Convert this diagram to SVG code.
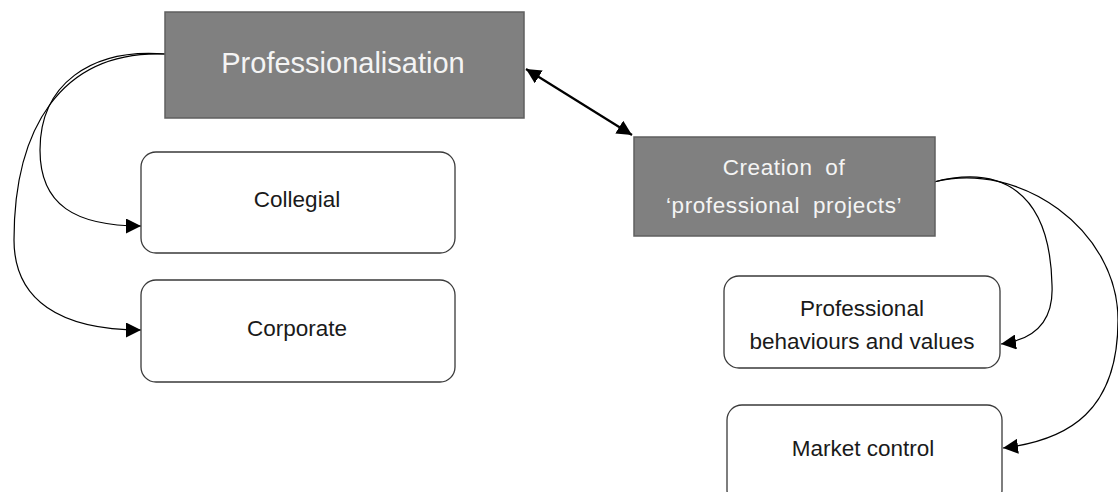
<svg xmlns="http://www.w3.org/2000/svg" width="1118" height="492" viewBox="0 0 1118 492">
  <style>
    .dark rect { fill: #808080; stroke: #5f5f5f; stroke-width: 1.5; }
    .light rect { fill: #ffffff; stroke: #3a3a3a; stroke-width: 1.3; }
    .dark text { fill: #f4f4f4; font-family: "Liberation Sans", "Open Sans", sans-serif; text-anchor: middle; }
    .light text { fill: #1a1a1a; font-family: "Liberation Sans", "Open Sans", sans-serif; text-anchor: middle; font-size: 22.5px; }
    .spaced { font-size: 22.5px; word-spacing: 6px; letter-spacing: 0.6px; }
    .conn { fill: none; stroke: #000; stroke-width: 1.2; }
    .bold { stroke-width: 2.2; }
  </style>
  <defs>
    <marker id="head" viewBox="0 0 10 10" refX="10" refY="5" markerUnits="userSpaceOnUse" markerWidth="15" markerHeight="15" orient="auto-start-reverse">
      <path d="M0,0 L10,5 L0,10 Z" fill="#000"/>
    </marker>
  </defs>

  <rect width="1118" height="492" fill="#ffffff"/>

  <!-- connectors -->
  <g id="connectors">
    <path class="conn bold" d="M526,69 L632,135" marker-start="url(#head)" marker-end="url(#head)"/>
    <path class="conn" d="M165,54 C90,48 40,85 40,150 C40,205 75,226 141,226" marker-end="url(#head)"/>
    <path class="conn" d="M165,54 C60,50 14,130 14,240 C14,300 60,330 141,330" marker-end="url(#head)"/>
    <path class="conn" d="M934,182 C1000,165 1050,190 1052,285 C1054,325 1030,340 1001,344" marker-end="url(#head)"/>
    <path class="conn" d="M934,182 C1020,160 1118,230 1118,320 C1118,410 1070,440 1003,448" marker-end="url(#head)"/>
  </g>

  <g id="professionalisation" class="dark">
    <rect x="165" y="12" width="359" height="106"/>
    <text x="343" y="73" font-size="29">Professionalisation</text>
  </g>

  <g id="creation" class="dark">
    <rect x="634" y="137" width="301" height="99"/>
    <text class="spaced" x="784" y="175">Creation of</text>
    <text class="spaced" x="784" y="213">‘professional projects’</text>
  </g>

  <g id="collegial" class="light">
    <rect x="141" y="152" width="314" height="101" rx="15"/>
    <text x="297" y="207">Collegial</text>
  </g>

  <g id="corporate" class="light">
    <rect x="141" y="280" width="314" height="102" rx="15"/>
    <text x="297" y="336">Corporate</text>
  </g>

  <g id="behaviours" class="light">
    <rect x="724" y="276" width="276" height="92" rx="15"/>
    <text x="862" y="316">Professional</text>
    <text x="862" y="349">behaviours and values</text>
  </g>

  <g id="market" class="light">
    <rect x="727" y="405" width="275" height="100" rx="15"/>
    <text x="863" y="456">Market control</text>
  </g>
</svg>
